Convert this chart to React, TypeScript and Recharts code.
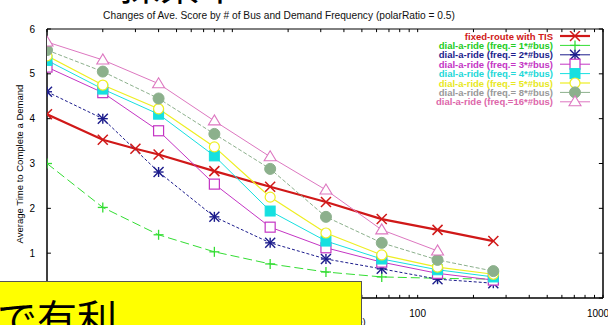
import React from 'react';
import { LineChart, Line, XAxis, YAxis, Label, ReferenceLine } from 'recharts';

// # of bus (log scale)
const busCounts = [1, 2, 4, 8, 16, 32, 64, 128, 256];
const busCountsTis = [1, 2, 3, 4, 8, 16, 32, 64, 128, 256];
const busCountsF16 = [1, 2, 4, 8, 16, 32, 64, 128];

const fixedRoute = [4.1, 3.53, 3.33, 3.2, 2.83, 2.48, 2.14, 1.76, 1.52, 1.27];
const freq1 = [3.0, 2.02, 1.41, 1.03, 0.76, 0.58, 0.47, 0.44, 0.42];
const freq2 = [4.6, 4.0, 2.81, 1.81, 1.23, 0.87, 0.65, 0.42, 0.33];
const freq3 = [5.15, 4.58, 3.73, 2.54, 1.58, 1.12, 0.8, 0.55, 0.4];
const freq4 = [5.3, 4.66, 4.1, 3.17, 1.94, 1.27, 0.87, 0.63, 0.47];
const freq5 = [5.4, 4.75, 4.22, 3.37, 2.25, 1.45, 0.96, 0.69, 0.53];
const freq8 = [5.53, 5.05, 4.45, 3.66, 2.88, 1.81, 1.23, 0.85, 0.6];
const freq16 = [5.71, 5.31, 4.78, 3.95, 3.15, 2.41, 1.52, 1.05];

const xTicks = [1, 10, 100, 1000];
const xMinorTicks = [1, 2, 3, 4, 5, 6, 7, 8, 9, 10, 20, 30, 40, 50, 60, 70, 80, 90, 100, 200, 300, 400, 500, 600, 700, 800, 900, 1000];
const yTicks = [0, 1, 2, 3, 4, 5, 6];

const toPoints = (xs: number[], ys: number[]) => xs.map((x, i) => ({ x, y: ys[i] }));

type Marker = 'x' | 'plus' | 'star' | 'square' | 'fsquare' | 'circle' | 'fcircle' | 'triangle';

const drawMarker = (kind: Marker, color: string, cx: number, cy: number, k?: any) => {
  const s = 5;
  switch (kind) {
    case 'x':
      return (
        <g key={k} stroke={color} strokeWidth={1.5}>
          <line x1={cx - s} y1={cy - s} x2={cx + s} y2={cy + s} />
          <line x1={cx - s} y1={cy + s} x2={cx + s} y2={cy - s} />
        </g>
      );
    case 'plus':
      return (
        <g key={k} stroke={color} strokeWidth={1.3}>
          <line x1={cx - s} y1={cy} x2={cx + s} y2={cy} />
          <line x1={cx} y1={cy - s} x2={cx} y2={cy + s} />
        </g>
      );
    case 'star':
      return (
        <g key={k} stroke={color} strokeWidth={1.4}>
          <line x1={cx - s} y1={cy} x2={cx + s} y2={cy} />
          <line x1={cx} y1={cy - s} x2={cx} y2={cy + s} />
          <line x1={cx - s} y1={cy - s} x2={cx + s} y2={cy + s} />
          <line x1={cx - s} y1={cy + s} x2={cx + s} y2={cy - s} />
        </g>
      );
    case 'square':
      return <rect key={k} x={cx - 5} y={cy - 5} width={10} height={10} fill="#fff" stroke={color} strokeWidth={1.2} />;
    case 'fsquare':
      return <rect key={k} x={cx - 5} y={cy - 5} width={10} height={10} fill={color} stroke={color} />;
    case 'circle':
      return <circle key={k} cx={cx} cy={cy} r={5} fill="#fff" stroke={color} strokeWidth={1.2} />;
    case 'fcircle':
      return <circle key={k} cx={cx} cy={cy} r={5.5} fill={color} stroke={color} />;
    case 'triangle':
      return (
        <polygon key={k} points={`${cx},${cy - 6} ${cx - 6},${cy + 4} ${cx + 6},${cy + 4}`} fill="#fff" stroke={color} strokeWidth={1.1} />
      );
  }
};

const series = [
  { name: 'fixed-route with TIS', data: toPoints(busCountsTis, fixedRoute), color: '#d01818', text: '#d01818', marker: 'x' as Marker, width: 2.2, dash: undefined },
  { name: 'dial-a-ride (freq.= 1*#bus)', data: toPoints(busCounts, freq1), color: '#33dd33', text: '#22cc22', marker: 'plus' as Marker, width: 1, dash: '9 4' },
  { name: 'dial-a-ride (freq.= 2*#bus)', data: toPoints(busCounts, freq2), color: '#1c1c8c', text: '#1c1c8c', marker: 'star' as Marker, width: 1, dash: '3 2' },
  { name: 'dial-a-ride (freq.= 3*#bus)', data: toPoints(busCounts, freq3), color: '#c435c4', text: '#c435c4', marker: 'square' as Marker, width: 1, dash: undefined },
  { name: 'dial-a-ride (freq.= 4*#bus)', data: toPoints(busCounts, freq4), color: '#16e0e0', text: '#22d8d8', marker: 'fsquare' as Marker, width: 1, dash: undefined },
  { name: 'dial-a-ride (freq.= 5*#bus)', data: toPoints(busCounts, freq5), color: '#eeee22', text: '#e8e822', marker: 'circle' as Marker, width: 1.2, dash: undefined },
  { name: 'dial-a-ride (freq.= 8*#bus)', data: toPoints(busCounts, freq8), color: '#8cb08c', text: '#999999', marker: 'fcircle' as Marker, width: 1, dash: '4 2' },
  { name: 'dial-a-ride (freq.=16*#bus)', data: toPoints(busCountsF16, freq16), color: '#dd77c0', text: '#dd66aa', marker: 'triangle' as Marker, width: 1, dash: undefined },
];

const LegendBox = () => (
  <svg width={228} height={80} style={{ display: 'block' }}>
    {series.map((s, i) => {
      const y = 5 + i * 9.4;
      return (
        <g key={s.name}>
          <text x={173} y={y + 3.5} textAnchor="end" fontSize={9.5} fontWeight="bold" fill={s.text} fontFamily="Liberation Sans, Arial, sans-serif">
            {s.name}
          </text>
          <line x1={180} y1={y} x2={210} y2={y} stroke={s.color} strokeWidth={s.width} />
          {drawMarker(s.marker, s.color, 195, y)}
        </g>
      );
    })}
  </svg>
);

export default function App() {
  return (
    <div style={{ position: 'fixed', left: 0, top: 0, width: 608, height: 325, background: '#fff', overflow: 'hidden', fontFamily: 'Liberation Sans, Arial, sans-serif' }}>
      <div style={{ position: 'absolute', left: 120, top: -37, fontSize: 40, lineHeight: '40px', fontFamily: 'Noto Sans CJK JP', color: '#000', whiteSpace: 'nowrap' }}>
        探索木
      </div>
      <div style={{ position: 'absolute', left: 0, width: 558, top: 10, textAlign: 'center', fontSize: 10.2, color: '#111' }}>
        Changes of Ave. Score by # of Bus and Demand Frequency (polarRatio = 0.5)
      </div>
      <LineChart width={608} height={325} margin={{ top: 29, right: 5, left: 0, bottom: 0 }} style={{ position: 'absolute', left: 0, top: 0 }}>
        <XAxis
          type="number"
          dataKey="x"
          scale="log"
          domain={[1, 1000]}
          ticks={xTicks}
          allowDataOverflow
          height={27}
          tickLine={false}
          axisLine={{ stroke: '#000', strokeWidth: 1.5 }}
          tick={{ fill: '#000', fontSize: 10 }}
          tickMargin={6}
        >
          <Label value="# of Bus (log scale)" position="insideBottom" offset={0} fontSize={9.5} fill="#000" />
        </XAxis>
        <YAxis
          type="number"
          domain={[0, 6]}
          ticks={yTicks}
          width={47}
          tickLine={false}
          axisLine={{ stroke: '#000', strokeWidth: 1.5 }}
          tick={{ fill: '#000', fontSize: 10 }}
          tickMargin={6}
        >
          <Label
            content={() => (
              <text x={23} y={164} transform="rotate(-90, 23, 164)" textAnchor="middle" fontSize={9.5} fill="#000" fontFamily="Liberation Sans, Arial, sans-serif">
                Average Time to Complete a Demand
              </text>
            )}
          />
        </YAxis>
        {/* frame: top and right border with inward ticks */}
        <ReferenceLine y={6} stroke="#000" strokeWidth={1} ifOverflow="visible" />
        <ReferenceLine x={1000} stroke="#000" strokeWidth={1.5} ifOverflow="visible" />
        {xMinorTicks.map((t) => (
          <ReferenceLine key={`tt${t}`} segment={[{ x: t, y: 6 }, { x: t, y: 5.93 }]} stroke="#000" ifOverflow="visible" />
        ))}
        {xMinorTicks.map((t) => (
          <ReferenceLine key={`bt${t}`} segment={[{ x: t, y: 0 }, { x: t, y: 0.07 }]} stroke="#000" ifOverflow="visible" />
        ))}
        {yTicks.map((t) => (
          <ReferenceLine key={`lt${t}`} segment={[{ x: 1, y: t }, { x: 1.05, y: t }]} stroke="#000" ifOverflow="visible" />
        ))}
        {yTicks.map((t) => (
          <ReferenceLine key={`rt${t}`} segment={[{ x: 950, y: t }, { x: 1000, y: t }]} stroke="#000" ifOverflow="visible" />
        ))}
        {series.map((s) => (
          <Line
            key={s.name}
            data={s.data}
            dataKey="y"
            name={s.name}
            stroke={s.color}
            strokeWidth={s.width}
            strokeDasharray={s.dash}
            isAnimationActive={false}
            dot={(p: any) => drawMarker(s.marker, s.color, p.cx, p.cy, `${s.name}-${p.index}`)}
            activeDot={false}
          />
        ))}
      </LineChart>
      <div style={{ position: 'absolute', left: 380, top: 31 }}>
        <LegendBox />
      </div>
      <div style={{ position: 'absolute', left: 0, top: 281, width: 361, height: 44, background: '#ffff00', borderTop: '1px solid #555', borderRight: '1px solid #555', overflow: 'hidden' }}>
        <div style={{ position: 'absolute', left: -3, top: 15, fontSize: 40, lineHeight: '40px', fontFamily: 'Noto Sans CJK JP', color: '#000', whiteSpace: 'nowrap' }}>
          で有利
        </div>
      </div>
    </div>
  );
}
